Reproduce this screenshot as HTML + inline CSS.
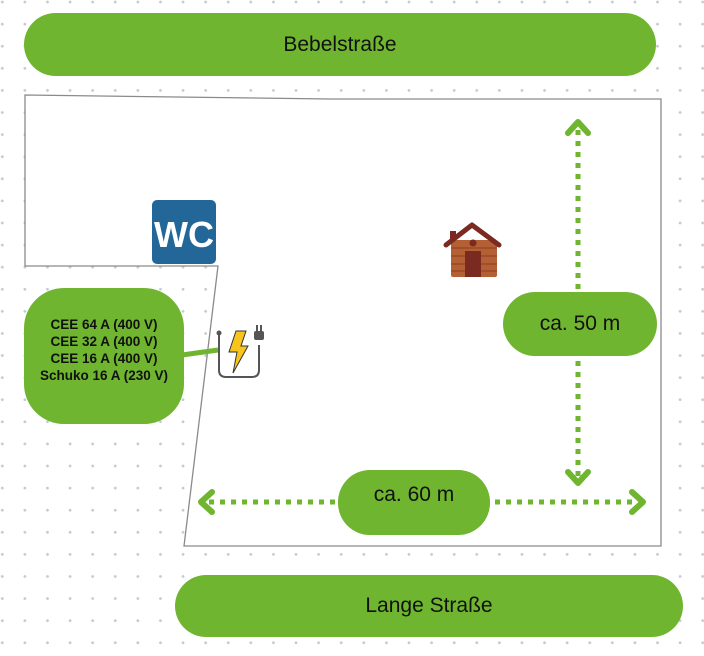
<!DOCTYPE html>
<html><head><meta charset="utf-8"><style>
html,body{margin:0;padding:0;width:704px;height:656px;overflow:hidden;background:#fff;}
body{background-image:radial-gradient(circle,#c3c9d8 1.2px,transparent 1.6px);background-size:22.6px 22.1px;background-position:-9px -9px;position:relative;font-family:"Liberation Sans",sans-serif;}
.pill{position:absolute;background:#6fb52f;display:flex;align-items:center;justify-content:center;color:#111;}
</style></head><body>
<svg width="704" height="656" style="position:absolute;left:0;top:0">
<polygon points="25,95 330,99 661,99 661,546 184,546 218,266 25,266" fill="#fff" stroke="#8a8a8a" stroke-width="1.3"/>
<line x1="578" y1="130" x2="578" y2="476" stroke="#6fb52f" stroke-width="5" stroke-dasharray="5,6"/>
<polyline points="568,133 578,122 588,133" fill="none" stroke="#6fb52f" stroke-width="6" stroke-linecap="round" stroke-linejoin="round"/>
<polyline points="568,472 578,483 588,472" fill="none" stroke="#6fb52f" stroke-width="6" stroke-linecap="round" stroke-linejoin="round"/>
<line x1="209" y1="502" x2="636" y2="502" stroke="#6fb52f" stroke-width="5" stroke-dasharray="5,6"/>
<polyline points="212,492 201,502 212,512" fill="none" stroke="#6fb52f" stroke-width="6" stroke-linecap="round" stroke-linejoin="round"/>
<polyline points="632,492 643,502 632,512" fill="none" stroke="#6fb52f" stroke-width="6" stroke-linecap="round" stroke-linejoin="round"/>
<line x1="182" y1="355" x2="218" y2="350" stroke="#6fb52f" stroke-width="5"/>
<rect x="152" y="200" width="64" height="64" rx="5" fill="#236698"/>
<text x="184" y="247" font-family="Liberation Sans,sans-serif" font-weight="bold" font-size="36" fill="#fff" text-anchor="middle">WC</text>
<path d="M219,334 V370 Q219,377 226,377 H252 Q259,377 259,370 V345" fill="none" stroke="#555" stroke-width="2"/>
<circle cx="219" cy="333" r="2.5" fill="#555"/>
<rect x="254" y="331" width="10" height="9" rx="2" fill="#555"/>
<rect x="256" y="325" width="2" height="6" fill="#555"/><rect x="260" y="325" width="2" height="6" fill="#555"/>
<polygon points="236,331 246,331 241,346 248,346 233,373 237,352 229,352" fill="#f7c51e" stroke="#333" stroke-width="1"/>
<rect x="450" y="231" width="6" height="10" fill="#7b2a22"/>
<rect x="451" y="240" width="46" height="37" rx="2" fill="#b45f34"/>
<g stroke="#9a4a28" stroke-width="1.5"><line x1="451" y1="248" x2="497" y2="248"/><line x1="451" y1="256" x2="497" y2="256"/><line x1="451" y1="264" x2="497" y2="264"/><line x1="451" y1="271" x2="497" y2="271"/></g>
<polyline points="446,245 472,225 499,245" fill="none" stroke="#7b2a22" stroke-width="5" stroke-linecap="round" stroke-linejoin="round"/>
<circle cx="473" cy="243" r="3.5" fill="#7b2a22"/>
<rect x="465" y="251" width="16" height="26" fill="#7b2a22"/>
</svg>
<div class="pill" style="left:24px;top:13px;width:632px;height:63px;border-radius:32px;font-size:21px;">Bebelstraße</div>
<div class="pill" style="left:175px;top:575px;width:508px;height:62px;border-radius:31px;font-size:21px;">Lange Straße</div>
<div class="pill" style="left:24px;top:288px;width:160px;height:136px;border-radius:40px;font-size:13.5px;font-weight:bold;line-height:17px;text-align:center;padding-bottom:12px;box-sizing:border-box;">CEE 64 A (400 V)<br>CEE 32 A (400 V)<br>CEE 16 A (400 V)<br>Schuko 16 A (230 V)</div>
<div class="pill" style="left:503px;top:292px;width:154px;height:64px;border-radius:32px;font-size:21px;">ca. 50 m</div>
<div class="pill" style="left:338px;top:470px;width:152px;height:65px;border-radius:32px;font-size:21px;padding-bottom:16px;box-sizing:border-box;">ca. 60 m</div>
</body></html>
